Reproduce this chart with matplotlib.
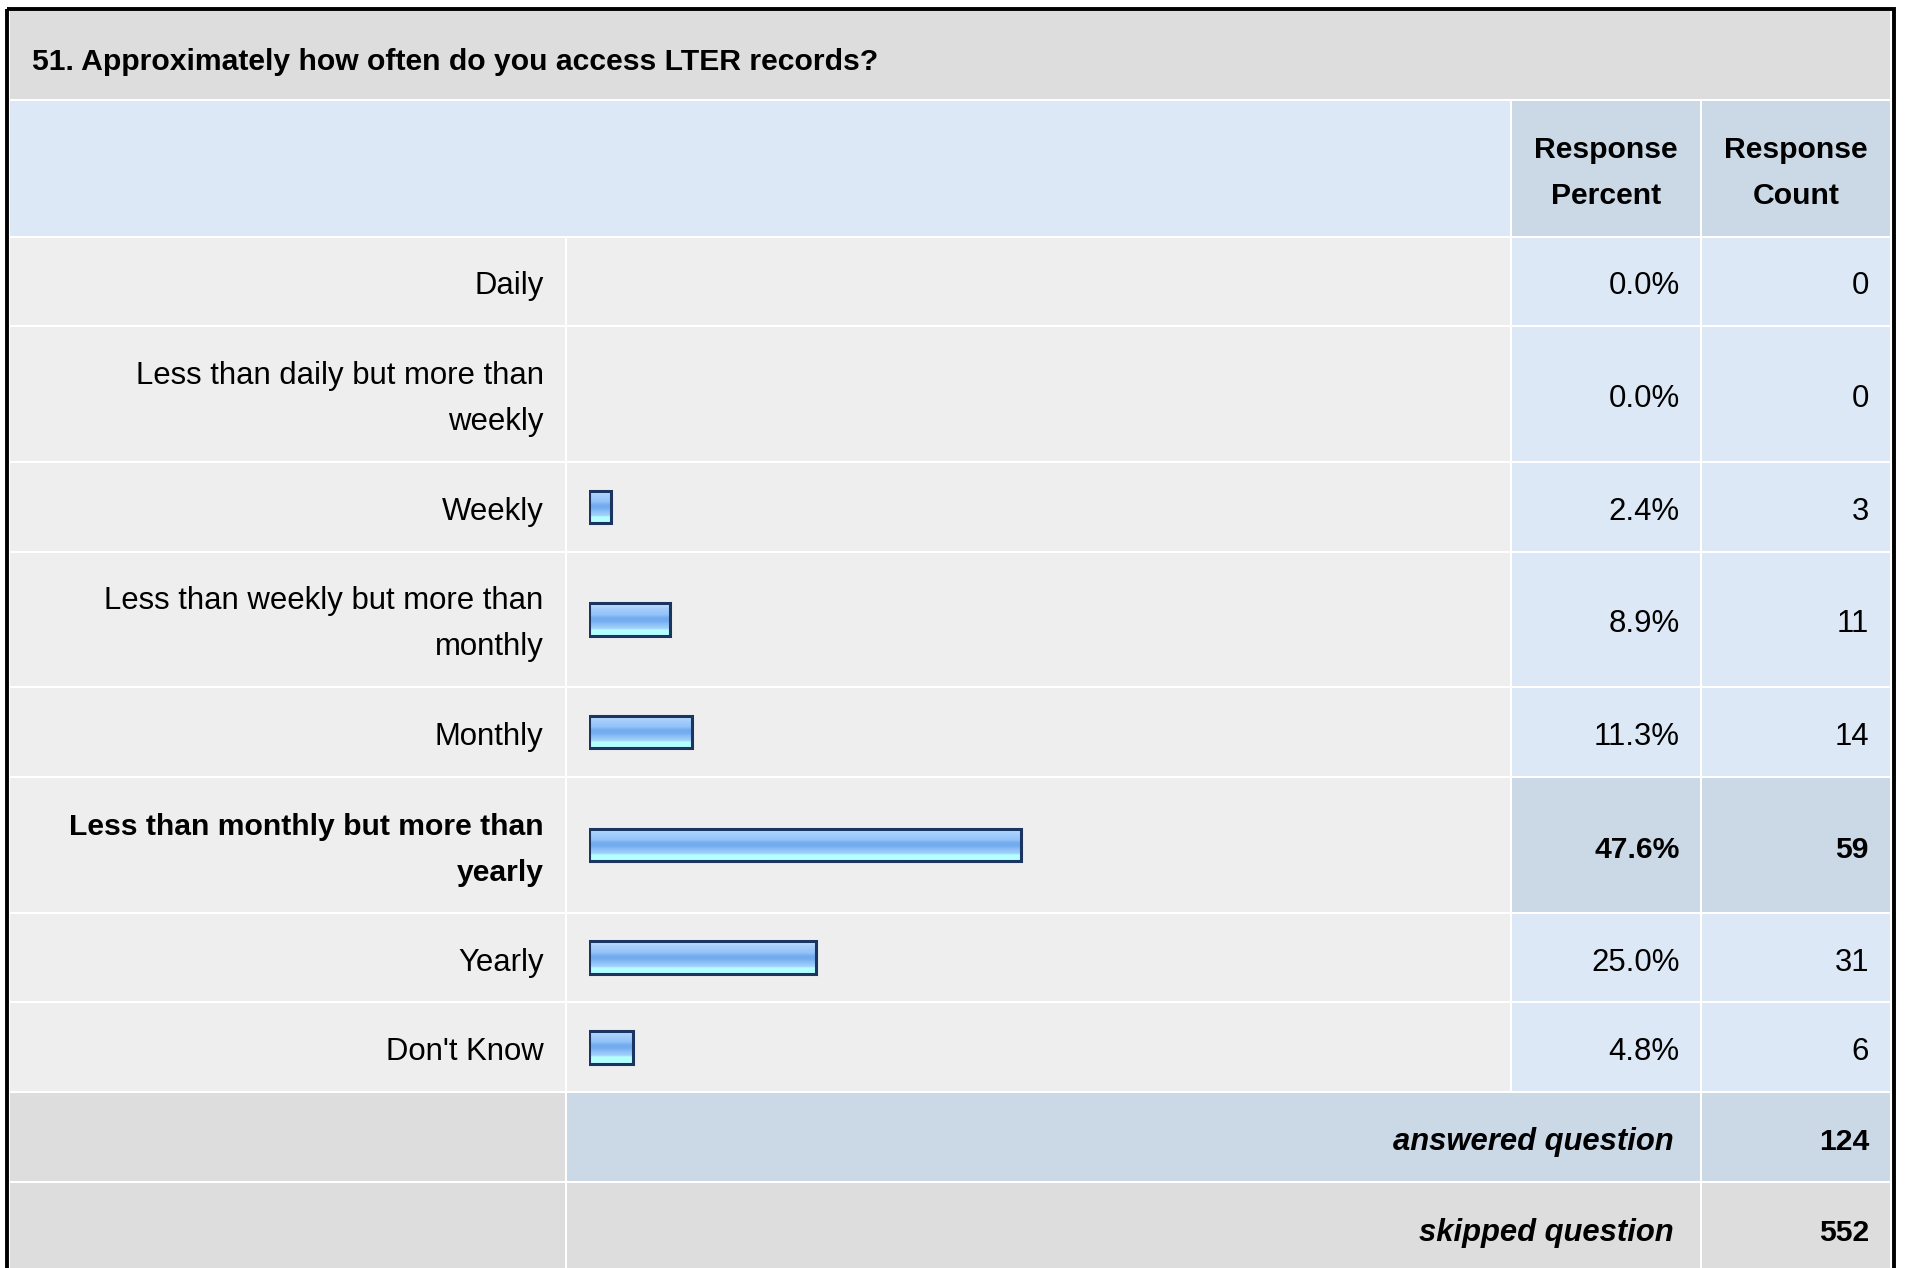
import numpy as np
import matplotlib.pyplot as plt
from matplotlib.patches import Rectangle
from matplotlib.colors import LinearSegmentedColormap

plt.rcParams['font.family'] = ['Liberation Sans', 'DejaVu Sans']

# survey data
question = "51. Approximately how often do you access LTER records?"
answers = [["Daily"],
           ["Less than daily but more than", "weekly"],
           ["Weekly"],
           ["Less than weekly but more than", "monthly"],
           ["Monthly"],
           ["Less than monthly but more than", "yearly"],
           ["Yearly"],
           ["Don't Know"]]
percents = [0.0, 0.0, 2.4, 8.9, 11.3, 47.6, 25.0, 4.8]
counts = [0, 0, 3, 11, 14, 59, 31, 6]
col_headers = [["Response", "Percent"], ["Response", "Count"]]
answered = 124
skipped = 552

W, H = 1907, 1268
fig = plt.figure(figsize=(W / 100, H / 100), dpi=100)
fig.patch.set_facecolor('white')
ax = fig.add_axes([0, 0, 1, 1])
ax.set_xlim(0, W)
ax.set_ylim(H, 0)
ax.axis('off')

FS_B = 21.7    # bold text
FS_R = 22.4    # regular text renders a bit wider in the original
LINE = 46      # line height in px
BASE = 13      # baseline offset from line centre

# column edges (px)
XL0, XL1 = 10, 565      # label
XB0, XB1 = 567, 1510    # bars
XP0, XP1 = 1512, 1700   # percent
XC0, XC1 = 1702, 1890   # count

GREY_T = '#dddddd'
GREY = '#eeeeee'
BLUE_L = '#dce8f5'
BLUE_D = '#cbd8e6'


def cell(x0, x1, y0, y1, color):
    ax.add_patch(Rectangle((x0, y0), x1 - x0, y1 - y0, fc=color, lw=0, zorder=1))


def lines(x, yc, texts, ha='right', fontweight='normal', fs=None, **kw):
    n = len(texts)
    if fs is None:
        fs = FS_B if fontweight == 'bold' else FS_R
    for i, t in enumerate(texts):
        yb = yc + (i - (n - 1) / 2) * LINE + BASE
        ax.text(x, yb, t, ha=ha, va='baseline', fontsize=fs, color='black',
                fontweight=fontweight, zorder=5, **kw)


# title band
cell(XL0, XC1, 10, 99, GREY_T)
ax.text(31.5, 57 + BASE, question, ha='left', va='baseline', fontsize=FS_B,
        fontweight='bold', zorder=5)

# header
cell(XL0, XB1, 101, 236, BLUE_L)
cell(XP0, XP1, 101, 236, BLUE_D)
cell(XC0, XC1, 101, 236, BLUE_D)
lines((XP0 + XP1) / 2, 168.5, col_headers[0], ha='center', fontweight='bold')
lines((XC0 + XC1) / 2, 168.5, col_headers[1], ha='center', fontweight='bold')

# answer rows
hi = int(np.argmax(percents))
y = 237.5
centers = []
for i, lab in enumerate(answers):
    h = 87.7 if len(lab) == 1 else 133.7
    y0, y1 = y, y + h
    yc = (y0 + y1) / 2
    centers.append(yc)
    pc = BLUE_D if i == hi else BLUE_L
    cell(XL0, XL1, y0, y1, GREY)
    cell(XB0, XB1, y0, y1, GREY)
    cell(XP0, XP1, y0, y1, pc)
    cell(XC0, XC1, y0, y1, pc)
    fw = 'bold' if i == hi else 'normal'
    lines(543.5, yc, lab, fontweight=fw)
    lines(1679.5, yc, ["%.1f%%" % percents[i]], fontweight=fw)
    lines(1869, yc, [str(counts[i])], fontweight=fw)
    y = y1 + 2

# answered / skipped
ya0 = y
ya1 = ya0 + 88.3
cell(XL0, XL1, ya0, ya1, GREY_T)
cell(XB0, XP1, ya0, ya1, BLUE_D)
cell(XC0, XC1, ya0, ya1, BLUE_D)
lines(1673.5, (ya0 + ya1) / 2, ["answered question"], fontweight='bold',
      fontstyle='italic', fs=22.3)
lines(1869, (ya0 + ya1) / 2, [str(answered)], fontweight='bold')

ys0 = ya1 + 2
ys1 = ys0 + 88.3
cell(XL0, XL1, ys0, H + 50, GREY_T)
cell(XB0, XP1, ys0, H + 50, GREY_T)
cell(XC0, XC1, ys0, H + 50, GREY_T)
lines(1673.5, (ys0 + ys1) / 2, ["skipped question"], fontweight='bold',
      fontstyle='italic', fs=22.3)
lines(1869, (ys0 + ys1) / 2, [str(skipped)], fontweight='bold')

# outer frame
ax.add_patch(Rectangle((7.3, 8.5), 1893.6 - 7.3, 1400, fill=False, ec='black',
                       lw=2.8, zorder=6))

# bars: 0-100 % across the bar column
px_per_pct = 9.08
bx0 = 589.2
axb = fig.add_axes([bx0 / W, 0, 100 * px_per_pct / W, 1])
axb.patch.set_visible(False)
axb.axis('off')

cmap = LinearSegmentedColormap.from_list('bar', [
    (0.0, '#c8e2fb'), (0.15, '#a6cffc'), (0.35, '#93c3f9'), (0.45, '#72abee'),
    (0.55, '#74adef'), (0.66, '#8ec1f7'), (0.78, '#a4d4fd'), (0.82, '#b4ffff'),
    (1.0, '#b4ffff')])
grad = np.linspace(0, 1, 64).reshape(-1, 1)
bh = 32.5
ys_bar = [c for c, p in zip(centers, percents) if p > 0]
ps_bar = [p for p in percents if p > 0]
for yc, p in zip(ys_bar, ps_bar):
    axb.imshow(grad, cmap=cmap, extent=(0, p, yc + bh / 2, yc - bh / 2),
               aspect='auto', interpolation='bilinear', zorder=2)
axb.barh(ys_bar, ps_bar, height=bh, left=0, fc='none', ec='#1b3560', lw=2.2, zorder=3)
axb.set_xlim(0, 100)
axb.set_ylim(H, 0)

fig.savefig('out.png', dpi=100, facecolor='white')
